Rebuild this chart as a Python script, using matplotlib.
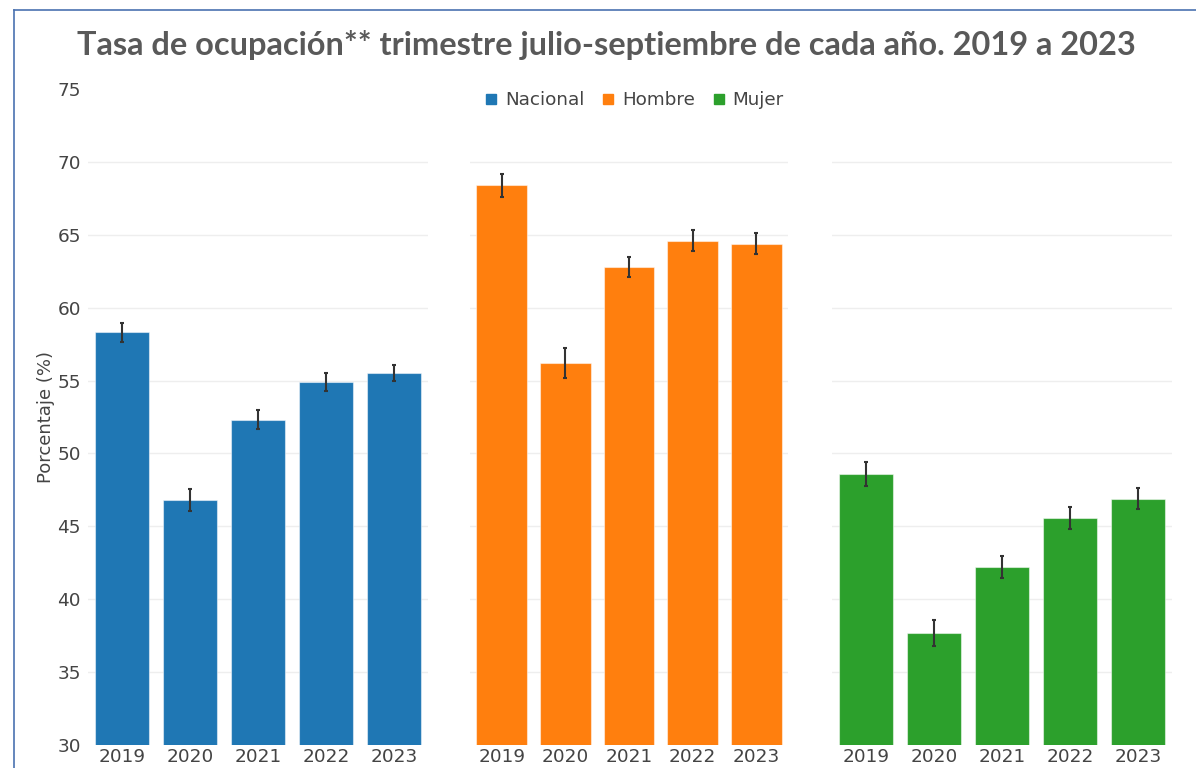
import numpy as np
import matplotlib.pyplot as plt
from matplotlib.lines import Line2D

years = ['2019', '2020', '2021', '2022', '2023']
nacional = [58.3, 46.8, 52.3, 54.9, 55.5]
nacional_err = [0.65, 0.75, 0.65, 0.65, 0.55]
hombre = [68.4, 56.2, 62.8, 64.6, 64.4]
hombre_err = [0.8, 1.0, 0.7, 0.7, 0.7]
mujer = [48.6, 37.7, 42.2, 45.6, 46.9]
mujer_err = [0.8, 0.9, 0.75, 0.75, 0.7]
names = ['Nacional', 'Hombre', 'Mujer']
colors = ['#1f77b4', '#ff7f0e', '#2ca02c']
yticks = [30, 35, 40, 45, 50, 55, 60, 65, 70, 75]

W, H = 1196, 768
fig = plt.figure(figsize=(W / 100, H / 100), dpi=100)
fig.patch.set_facecolor('white')

# panel extents in pixels (left, right)
panels = [(88, 428), (470, 788), (832, 1172)]
y_top, y_bot = 89, 745
series = [(nacional, nacional_err), (hombre, hombre_err), (mujer, mujer_err)]

x = np.arange(len(years))
for i, ((l, r), (vals, errs)) in enumerate(zip(panels, series)):
    ax = fig.add_axes([l / W, 1 - y_bot / H, (r - l) / W, (y_bot - y_top) / H])
    for t in yticks[1:-1]:
        ax.axhline(t, color='#eeeeee', lw=1, zorder=0)
    ax.bar(x, vals, width=0.8, color=colors[i], edgecolor=(1, 1, 1, 0.5), linewidth=0.8, zorder=2)
    ax.errorbar(x, vals, yerr=errs, fmt='none', ecolor='#333333', elinewidth=1.5,
                capsize=1.2, capthick=1.5, zorder=3)
    ax.set_xlim(-0.5, 4.5)
    ax.set_ylim(30, 75)
    ax.set_xticks(x)
    ax.set_xticklabels(years)
    ax.set_yticks(yticks)
    ax.tick_params(axis='both', length=0, labelsize=13.3, colors='#444444', pad=2)
    ax.tick_params(axis='y', pad=5)
    for s in ax.spines.values():
        s.set_visible(False)
    if i == 0:
        ax.set_ylabel('Porcentaje (%)', fontsize=13, color='#444444', labelpad=2)
    else:
        ax.set_yticklabels([])

fig.text(606 / W, 1 - 45 / H, 'Tasa de ocupación** trimestre julio-septiembre de cada año. 2019 a 2023',
         ha='center', va='center', fontsize=23.4, fontweight='bold', color='#595959', family='Lato')

handles = [Line2D([], [], marker='s', linestyle='none', markersize=7, color=c) for c in colors]
fig.legend(handles, names, loc='center', bbox_to_anchor=(633 / W, 1 - 100 / H), ncol=3,
           frameon=False, fontsize=13.2, handletextpad=0.25, columnspacing=0.8,
           labelcolor='#444444', handlelength=1.0)

# blue border (left and top edges)
fig.add_artist(Line2D([14 / W, 14 / W], [0, 1 - 10 / H], color='#4a72b0', lw=1.2))
fig.add_artist(Line2D([14 / W, 1], [1 - 10 / H, 1 - 10 / H], color='#4a72b0', lw=1.2))

plt.savefig('out.png', dpi=100)
